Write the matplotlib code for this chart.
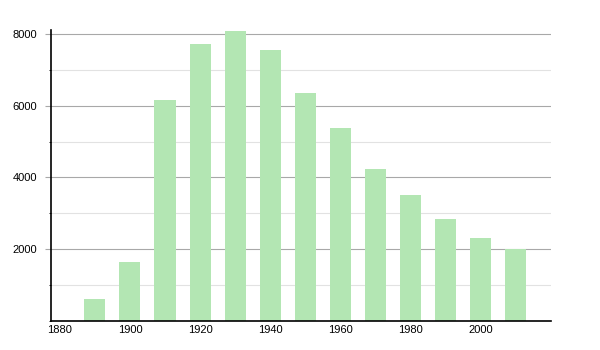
import matplotlib
matplotlib.use("Agg")
import matplotlib.pyplot as plt
from matplotlib.ticker import MultipleLocator

years = [1890, 1900, 1910, 1920, 1930, 1940, 1950, 1960, 1970, 1980, 1990, 2000, 2010]
population = [600, 1640, 6170, 7730, 8100, 7570, 6370, 5390, 4230, 3510, 2840, 2300, 2000]
x_ticks = [1880, 1900, 1920, 1940, 1960, 1980, 2000]
y_ticks = [2000, 4000, 6000, 8000]

plt.rcParams["font.family"] = ["Liberation Sans", "DejaVu Sans"]

fig = plt.figure(figsize=(6, 3.5), dpi=100)
ax = fig.add_axes([0.085, 0.084, 0.833, 0.83])

ax.bar(years, population, width=6, color="#b3e6b3", zorder=2)

ax.set_xlim(1877.5, 2020)
ax.set_ylim(0, 8120)
ax.set_xticks(x_ticks)
ax.set_yticks(y_ticks)
ax.yaxis.set_minor_locator(MultipleLocator(1000))

ax.grid(axis="y", which="major", color="#a8a8a8", linewidth=0.8, zorder=0)
ax.grid(axis="y", which="minor", color="#e2e2e2", linewidth=0.8, zorder=0)

for side in ["top", "right"]:
    ax.spines[side].set_visible(False)
ax.spines["left"].set_linewidth(1.2)
ax.spines["bottom"].set_linewidth(1.2)

ax.tick_params(axis="y", which="major", length=4.3, color="#a8a8a8", labelsize=8, pad=5.8)
ax.tick_params(axis="y", which="minor", length=1.8)
ax.tick_params(axis="x", length=0, labelsize=8, pad=3)

fig.savefig("out.png", dpi=100)
